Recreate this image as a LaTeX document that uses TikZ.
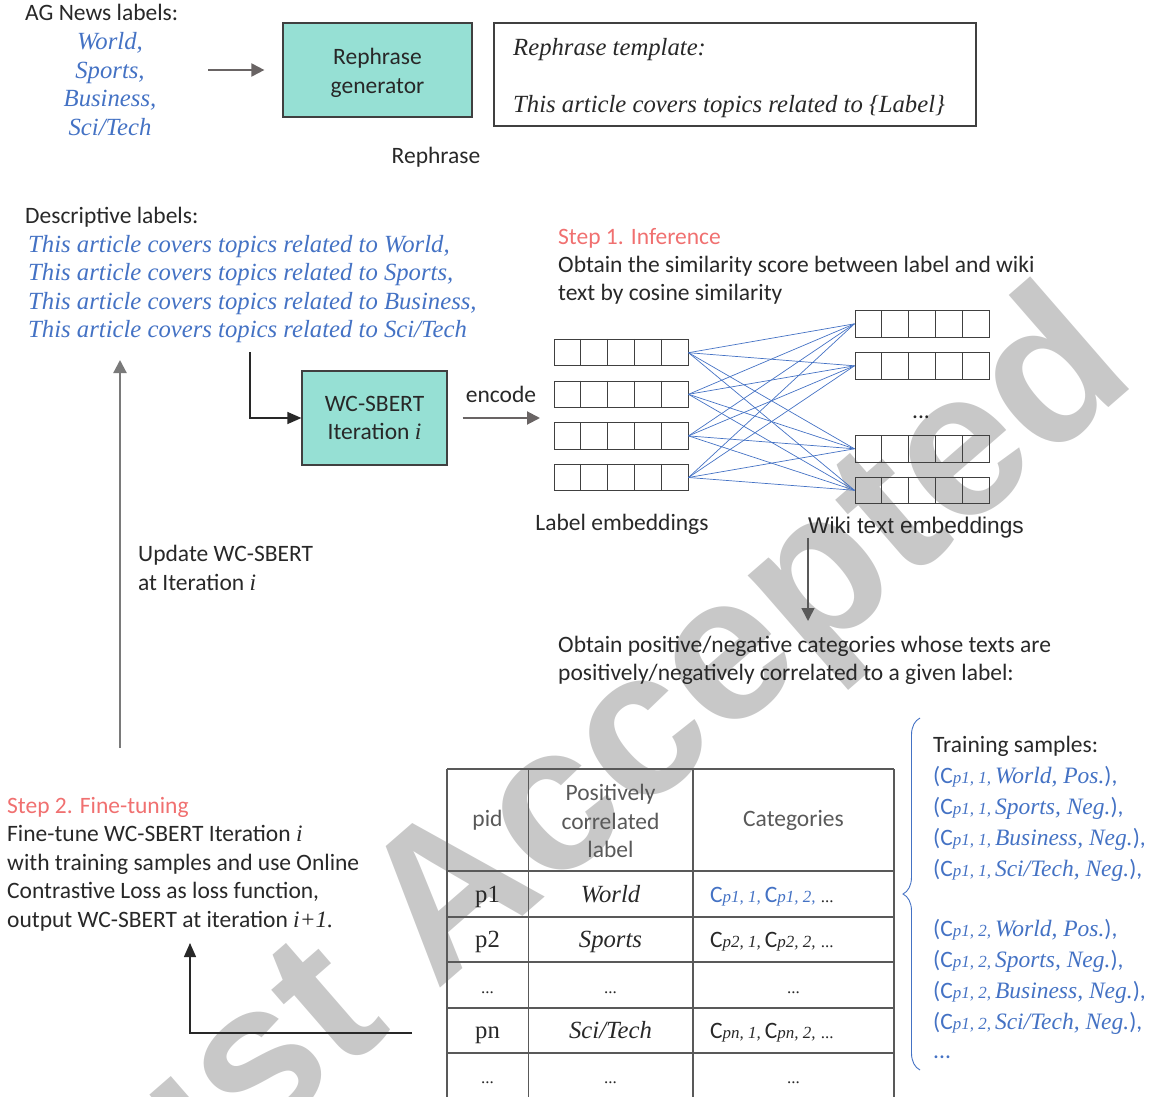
\documentclass[tikz,border=0pt]{standalone}
\usepackage{fontspec}
\setmainfont{Carlito}
\newfontfamily\camfont{Liberation Serif}
\newfontfamily\arialfont{Liberation Sans}
\usetikzlibrary{arrows.meta,positioning,calc,decorations.pathreplacing}
\definecolor{tealfill}{RGB}{150,224,212}
\definecolor{boxgray}{RGB}{64,64,64}
\definecolor{textgray}{RGB}{40,40,40}
\definecolor{headgray}{RGB}{89,89,89}
\definecolor{labelblue}{RGB}{68,114,196}
\definecolor{steppink}{RGB}{240,112,112}
\definecolor{arrowgray}{RGB}{105,100,100}
\definecolor{markgray}{RGB}{200,200,200}
\newcommand{\bodysize}{\fontsize{23.5}{28.5}\selectfont}
\newcommand{\ital}[1]{{\camfont\itshape #1}}
\newcommand{\subit}[1]{{\camfont\itshape\fontsize{17}{17}\selectfont #1}}
\newcommand{\tsamp}[2]{(C\subit{#1}\,\ital{#2}),}
\tikzset{
  >=Latex,
  txt/.style={inner sep=0pt, text=textgray, font=\bodysize},
  lbl/.style={inner sep=0pt, text=labelblue, font=\camfont\itshape\fontsize{24.7}{28.5}\selectfont},
  steptxt/.style={txt, text=steppink},
  procbox/.style={
    rectangle, draw=boxgray, line width=1.2pt, fill=tealfill,
    align=center, font=\bodysize, text=textgray, inner sep=0pt
  },
  tplbox/.style={rectangle, draw=boxgray, line width=1.4pt, minimum width=482pt, minimum height=103pt},
  embrow/.style={rectangle, draw=boxgray, line width=1pt, minimum width=134pt, minimum height=26.5pt, inner sep=0pt},
  sim/.style={draw=labelblue, line width=0.7pt},
  tabline/.style={draw=headgray, line width=1.2pt},
  arrow/.style={-{Triangle[length=13pt,width=13pt]}, line width=2pt, draw=arrowgray},
  darrow/.style={-{Triangle[length=14pt,width=12pt]}, line width=1.3pt, draw=textgray},
  wmark/.style={inner sep=0pt, text=markgray, font=\arialfont\bfseries\fontsize{207}{207}\selectfont},
}
\begin{document}
\begin{tikzpicture}[x=1pt, y=-1pt]
\useasboundingbox (0,0) rectangle (1160,1097);
% --- Watermark ---
\node[wmark, anchor=base east, rotate=41] (wmark) at (1140,380) {Just Accepted};

% --- Rephrase ---
\node[txt, anchor=base west] (agtitle) at (25,21) {AG News labels:};
\foreach \t [count=\k] in {{World,},{Sports,},{Business,},{Sci/Tech}}
  \node[lbl, anchor=base] (ag\k) at (110,{50+28.5*(\k-1)}) {\t};
\node[procbox, minimum width=189pt, minimum height=94pt] (rephgen) at (377.5,70) {};
\node[txt, align=center] (rephtxt) at (377.5,73) {Rephrase\\generator};
\node[tplbox] (tpl) at (735,74.5) {};
\node[lbl, text=textgray, anchor=base west] (tplhead) at (513,56) {Rephrase template:};
\node[lbl, text=textgray, anchor=base west] (tplbody) at (513,113) {This article covers topics related to \{Label\}};
\node[txt, anchor=base] (rephlbl) at (436,164) {Rephrase};
\coordinate (agOut) at (208,70);
\draw[arrow, shorten >=18pt] (agOut) -- (rephgen.west);

% --- Descriptive labels ---
\node[txt, anchor=base west] (desctitle) at (25,223) {Descriptive labels:};
\foreach \t [count=\k] in {{World,},{Sports,},{Business,},{Sci/Tech}}
  \node[lbl, anchor=base west] (desc\k) at (28,{252+28.5*(\k-1)}) {This article covers topics related to \t};

% --- WC-SBERT ---
\node[procbox, minimum width=145pt, minimum height=94pt] (wcsbert) at (374.5,418) {WC-SBERT\\Iteration \ital{i}};
\coordinate (descOut) at (250,352);
\draw[darrow] (descOut) |- (wcsbert.west);
\node[txt, anchor=base] (enctxt) at (501,402) {encode};
\coordinate (embIn) at (554,418);
\draw[arrow, shorten <=15pt, shorten >=14pt] (wcsbert.east) -- (embIn);

% --- Step 1 ---
\node[steptxt, anchor=base west] (step1) at (558,244) {Step 1. Inference};
\node[txt, anchor=base west] (simtxt1) at (558,272) {Obtain the similarity score between label and wiki};
\node[txt, anchor=base west] (simtxt2) at (558,300) {text by cosine similarity};

% embeddings
\foreach \k in {1,...,4}
  \node[embrow] (lemb\k) at (621,{352.7+41.6*(\k-1)}) {};
\foreach \y [count=\k] in {323.8,365.8,448.8,490.3}
  \node[embrow] (wemb\k) at (922,\y) {};
\foreach \r in {lemb,wemb}
  \foreach \k in {1,...,4}
    \foreach \c in {1,...,4}
      \draw[boxgray, line width=1pt] ($(\r\k.north west)!\c/5!(\r\k.north east)$) -- ($(\r\k.south west)!\c/5!(\r\k.south east)$);
\foreach \a in {1,...,4}
  \foreach \b in {1,...,4}
    \draw[sim] (lemb\a.east) -- (wemb\b.west);
\node[txt, anchor=base] (wdots) at (921,418) {...};
\node[txt, anchor=base] (lembtxt) at (622,530) {Label embeddings};
\node[inner sep=0pt, text=textgray, font=\arialfont\fontsize{22.7}{26}\selectfont, anchor=base] (wembtxt) at (916,533) {Wiki text embeddings};

\coordinate (posIn) at (808,621);
\draw[arrow, line width=1.6pt, draw=headgray] (posIn |- wembtxt.south) -- (posIn);
\node[txt, anchor=base west] (postxt1) at (558,652) {Obtain positive/negative categories whose texts are};
\node[txt, anchor=base west] (postxt2) at (558,680) {positively/negatively correlated to a given label:};

% --- Update loop ---
\coordinate (loopBot) at (120,748);
\coordinate (loopTop) at (120,360);
\draw[arrow, line width=2.2pt, draw=headgray!80] (loopBot) -- (loopTop);
\node[txt, anchor=base west] (upd1) at (138,561) {Update WC-SBERT};
\node[txt, anchor=base west] (upd2) at (138,590) {at Iteration \ital{i}};

% --- Step 2 ---
\node[steptxt, anchor=base west] (step2) at (7,813) {Step 2. Fine-tuning};
\node[txt, anchor=base west] (ft1) at (7,841.5) {Fine-tune WC-SBERT Iteration \ital{i}};
\node[txt, anchor=base west] (ft2) at (7,870) {with training samples and use Online};
\node[txt, anchor=base west] (ft3) at (7,898.5) {Contrastive Loss as loss function,};
\node[txt, anchor=base west] (ft4) at (7,927) {output WC-SBERT at iteration \ital{i+1.}};
\coordinate (tabOut) at (412,1033);
\coordinate (ftIn) at (190,943);
\draw[darrow] (tabOut) -| (ftIn);

% --- Table ---
\foreach \y in {769,871,917,962,1008,1053}
  \draw[tabline] (447,\y) -- (894,\y);
\foreach \x in {447,528.5,693,894}
  \draw[tabline] (\x,769) -- (\x,1097);
\node[txt, text=headgray] (hpid) at (487.5,820) {pid};
\node[txt, text=headgray, align=center] (hpos) at (610.5,821) {Positively\\correlated\\label};
\node[txt, text=headgray] (hcat) at (793.5,820) {Categories};
\node[txt, font=\camfont\fontsize{24.7}{28}\selectfont, anchor=base] (pid1) at (487.5,902) {p1};
\node[txt, font=\camfont\fontsize{24.7}{28}\selectfont, anchor=base] (pid2) at (487.5,947.5) {p2};
\node[txt, font=\camfont\fontsize{17}{20}\selectfont, anchor=base] (pid3) at (487.5,993) {...};
\node[txt, font=\camfont\fontsize{24.7}{28}\selectfont, anchor=base] (pid4) at (487.5,1038.5) {pn};
\node[txt, font=\camfont\fontsize{17}{20}\selectfont, anchor=base] (pid5) at (487.5,1083) {...};
\node[lbl, text=textgray, anchor=base] (pos1) at (610.5,902) {World};
\node[lbl, text=textgray, anchor=base] (pos2) at (610.5,947.5) {Sports};
\node[txt, font=\camfont\fontsize{17}{20}\selectfont, anchor=base] (pos3) at (610.5,993) {...};
\node[lbl, text=textgray, anchor=base] (pos4) at (610.5,1038.5) {Sci/Tech};
\node[txt, font=\camfont\fontsize{17}{20}\selectfont, anchor=base] (pos5) at (610.5,1083) {...};
\node[txt, anchor=base west] (cat1) at (710,902) {\textcolor{labelblue}{C\subit{p1, 1,}\,C\subit{p1, 2,}} {\camfont\fontsize{17}{20}\selectfont ...}};
\node[txt, anchor=base west] (cat2) at (710,947.5) {C\subit{p2, 1,}\,C\subit{p2, 2,} {\camfont\fontsize{17}{20}\selectfont ...}};
\node[txt, font=\camfont\fontsize{17}{20}\selectfont, anchor=base] (cat3) at (793.5,993) {...};
\node[txt, anchor=base west] (cat4) at (710,1038.5) {C\subit{pn, 1,}\,C\subit{pn, 2,} {\camfont\fontsize{17}{20}\selectfont ...}};
\node[txt, font=\camfont\fontsize{17}{20}\selectfont, anchor=base] (cat5) at (793.5,1083) {...};

% --- Training samples ---
\coordinate (brTop) at (920,718);
\coordinate (brBot) at (920,1070);
\draw[labelblue, line width=0.9pt, decorate, decoration={brace, amplitude=17pt}] (brBot) -- (brTop);
\node[txt, anchor=base west] (train0) at (933,752.5) {Training samples:};
\node[txt, text=labelblue, anchor=base west] (train1) at (933,783.5) {\tsamp{p1, 1,}{World, Pos.}};
\node[txt, text=labelblue, anchor=base west] (train2) at (933,814.5) {\tsamp{p1, 1,}{Sports, Neg.}};
\node[txt, text=labelblue, anchor=base west] (train3) at (933,845.5) {\tsamp{p1, 1,}{Business, Neg.}};
\node[txt, text=labelblue, anchor=base west] (train4) at (933,876.5) {\tsamp{p1, 1,}{Sci/Tech, Neg.}};
\node[txt, text=labelblue, anchor=base west] (train5) at (933,936.5) {\tsamp{p1, 2,}{World, Pos.}};
\node[txt, text=labelblue, anchor=base west] (train6) at (933,967.5) {\tsamp{p1, 2,}{Sports, Neg.}};
\node[txt, text=labelblue, anchor=base west] (train7) at (933,998.5) {\tsamp{p1, 2,}{Business, Neg.}};
\node[txt, text=labelblue, anchor=base west] (train8) at (933,1029.5) {\tsamp{p1, 2,}{Sci/Tech, Neg.}};
\node[txt, text=labelblue, anchor=base west] (train9) at (933,1058) {...};
\end{tikzpicture}
\end{document}
